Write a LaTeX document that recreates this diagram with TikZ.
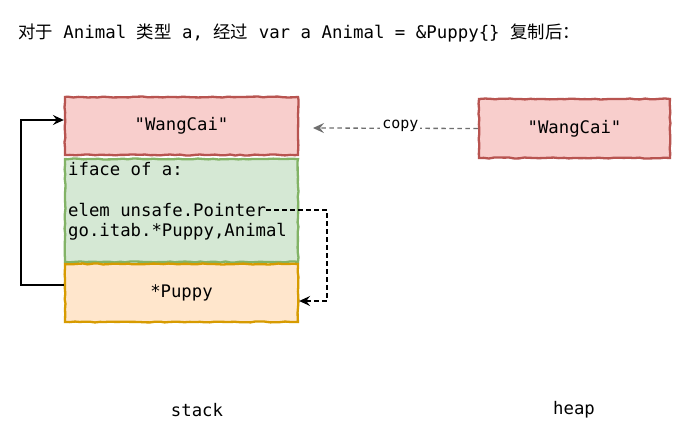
\documentclass[tikz,border=0pt]{standalone}
\usepackage{fontspec}
\setmonofont{DejaVu Sans Mono}
\newfontfamily\cjk{Noto Sans CJK SC}
\usetikzlibrary{arrows.meta,decorations.pathmorphing,calc}
\definecolor{fillred}{HTML}{F8CECC}
\definecolor{drawred}{HTML}{B85450}
\definecolor{fillgreen}{HTML}{D5E8D4}
\definecolor{drawgreen}{HTML}{82B366}
\definecolor{fillorange}{HTML}{FFE6CC}
\definecolor{draworange}{HTML}{D79B00}
\definecolor{copygray}{HTML}{6F6F6F}
\pgfmathsetseed{7}
\begin{document}
\begin{tikzpicture}[x=1pt,y=-1pt,
  font=\ttfamily\fontsize{17.3}{22}\selectfont,
  sketch/.style={decorate,decoration={random steps,segment length=5pt,amplitude=0.5pt},line width=2.3pt},
  memred/.style={sketch,draw=drawred,fill=fillred,minimum width=233pt,minimum height=58pt,inner sep=0pt},
  memgreen/.style={sketch,draw=drawgreen,fill=fillgreen,minimum width=233pt,minimum height=103pt,inner sep=0pt},
  memorange/.style={sketch,draw=draworange,fill=fillorange,minimum width=233pt,minimum height=58pt,inner sep=0pt},
  codeline/.style={anchor=west,inner sep=0pt},
  tip/.style={-{Stealth[length=11pt,width=10pt,inset=4pt]}},
  dashline/.style={dash pattern=on 4.5pt off 3.5pt},
  caption/.style={inner sep=0pt}]
\useasboundingbox (0,0) rectangle (682,444);
\fill[white] (0,0) rectangle (682,444);

\node[caption,anchor=west,font=\ttfamily\fontsize{17.4}{20}\selectfont] (title) at (18,33)
  {{\cjk 对于} Animal {\cjk 类型} a, {\cjk 经过} var a Animal = \&Puppy\{\} {\cjk 复制后：}};

\node[memred] (wang) at (181.5,126) {"WangCai"};
\node[memgreen] (iface) at (181.5,210.5) {};
\node[memorange] (puppy) at (181.5,293) {*Puppy};
\node[memred,minimum width=191pt,minimum height=59pt] (heapwang) at (574.5,128.5) {"WangCai"};

\node[codeline] (l1) at (68,169) {iface of a:};
\node[codeline] (l3) at (68,210) {elem unsafe.Pointer};
\node[codeline] (l4) at (68,232) {go.itab.*Puppy,Animal};

\coordinate (copyend) at (313,128);
\draw[tip,dashline,copygray,line width=1.3pt] (heapwang.west) -- node[pos=0.47,fill=white,inner sep=2pt,text=black,font=\ttfamily\fontsize{15}{16}\selectfont,yshift=2pt]{copy} (copyend);

\draw[tip,line width=1.4pt] ([shift={(0,-8)}]puppy.west) -- ++(-43,0) |- ([shift={(0,-6)}]wang.west);

\coordinate (rcol) at (327,0);
\draw[tip,dashline,line width=1.4pt] (l3.east) -- (l3.east -| rcol) |- ([shift={(0,8)}]puppy.east);

\node[caption] (stack) at (197,410) {stack};
\node[caption] (heap) at (574,410) {heap};
\end{tikzpicture}
\end{document}
